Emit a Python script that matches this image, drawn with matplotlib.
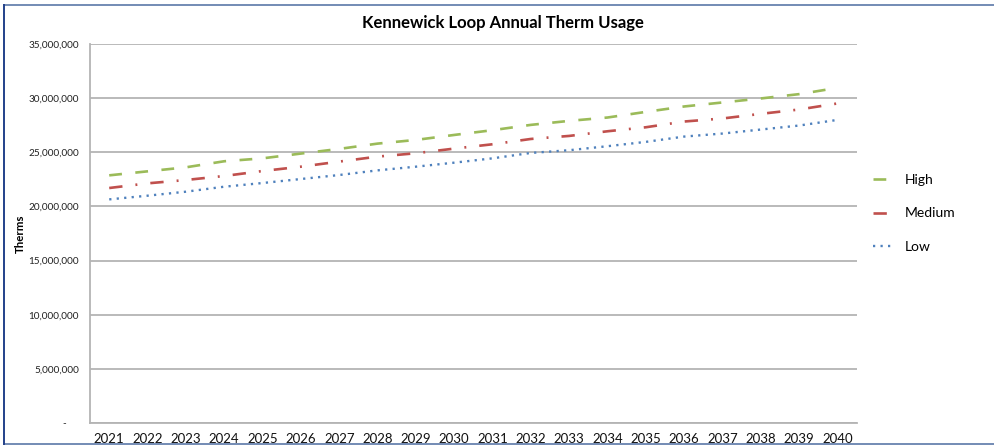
import matplotlib
matplotlib.use("Agg")
import matplotlib.pyplot as plt
from matplotlib.lines import Line2D
from matplotlib.ticker import FuncFormatter

plt.rcParams['font.family'] = ['Lato', 'DejaVu Sans']
plt.rcParams['lines.scale_dashes'] = False

years = [str(y) for y in range(2021, 2041)]
high = [22.87, 23.24, 23.61, 24.17, 24.44, 24.88, 25.31, 25.80, 26.14, 26.60,
        27.04, 27.53, 27.90, 28.21, 28.73, 29.23, 29.60, 29.97, 30.37, 30.95]
medium = [21.70, 22.13, 22.44, 22.81, 23.27, 23.67, 24.14, 24.60, 24.91, 25.34,
          25.74, 26.23, 26.51, 26.94, 27.31, 27.84, 28.12, 28.55, 28.95, 29.51]
low = [20.65, 20.99, 21.36, 21.82, 22.16, 22.53, 22.90, 23.33, 23.67, 24.04,
       24.44, 24.94, 25.19, 25.56, 25.96, 26.45, 26.73, 27.10, 27.47, 27.99]
scale = 1_000_000

fig = plt.figure(figsize=(9.95, 4.47), dpi=100)
ax = fig.add_axes([0.0905, 0.0537, 0.7705, 0.8479])

x = range(len(years))
ax.plot(x, [v * scale for v in high], color='#9BBB59', lw=1.9,
        dashes=[9.2, 9.7], dash_capstyle='butt', label='High')
ax.plot(x, [v * scale for v in medium], color='#C0504D', lw=1.9,
        dashes=[9.6, 9.4, 1.4, 9.4], dash_capstyle='butt', label='Medium')
ax.plot(x, [v * scale for v in low], color='#4F81BD', lw=1.7,
        dashes=[1.6, 3.8], dash_capstyle='butt', label='Low')

ax.set_xlim(-0.5, len(years) - 0.5)
ax.set_ylim(0, 35_000_000)
ax.set_yticks(range(0, 35_000_001, 5_000_000))
ax.yaxis.set_major_formatter(FuncFormatter(
    lambda v, p: f"{int(v):,}" if v > 0 else "-     "))
ax.set_xticks(list(x))
ax.set_xticklabels(years)
ax.tick_params(axis='y', length=0, labelsize=7.2, pad=8, labelcolor='#222222')
ax.tick_params(axis='x', length=0, labelsize=9.5, pad=7, labelcolor='#111111')

ax.grid(axis='y', color='#b4b4b4', lw=1.3)
ax.set_axisbelow(True)
for side in ('top', 'right'):
    ax.spines[side].set_visible(False)
for side in ('left', 'bottom'):
    ax.spines[side].set_color('#b4b4b4')
    ax.spines[side].set_linewidth(1.3)

ax.set_ylabel('Therms', fontsize=8.3, fontweight='bold', labelpad=2)
fig.text(0.505, 0.948, 'Kennewick Loop Annual Therm Usage', ha='center',
         va='center', fontsize=12, fontweight='bold', color='#000000')

leg = ax.legend(loc='center left', bbox_to_anchor=(1.005, 0.553), frameon=False,
                fontsize=10, handlelength=1.3, handletextpad=1.0,
                labelspacing=1.55)

# outer frame
fig.add_artist(Line2D([0.004, 1.0], [0.989, 0.989], transform=fig.transFigure,
                      color='#5b78a8', lw=1.2))
fig.add_artist(Line2D([0.004, 1.0], [0.006, 0.006], transform=fig.transFigure,
                      color='#5b78a8', lw=1.2))
fig.add_artist(Line2D([0.0045, 0.0045], [0.006, 0.989], transform=fig.transFigure,
                      color='#23418a', lw=1.4))

fig.savefig('out.png', dpi=100)
